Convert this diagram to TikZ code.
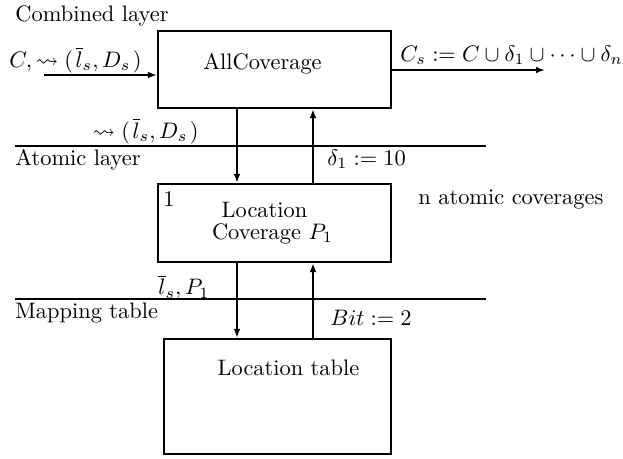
\documentclass[tikz,border=0pt]{standalone}
\usepackage{amsmath,amssymb}
\usetikzlibrary{arrows.meta}
\begin{document}
\begin{tikzpicture}[x=0.4464pt,y=-0.4464pt,
  box/.style={draw,line width=1pt,rectangle,inner sep=0pt},
  lbl/.style={inner sep=0pt,font=\normalsize},
  sep/.style={line width=0.5pt},
  down/.style={line width=0.8pt,-{Latex[length=4pt,width=3pt]}},
  up/.style={line width=1.3pt,-{Latex[length=4pt,width=3pt]}}]
\useasboundingbox (0,0) rectangle (623,458);
% boxes
\node[box,minimum width=233*0.4464pt,minimum height=77*0.4464pt] (allc) at (274.5,69.5) {};
\node[box,minimum width=233*0.4464pt,minimum height=78*0.4464pt] (lcov) at (274.5,223) {};
\node[box,minimum width=227*0.4464pt,minimum height=115*0.4464pt] (ltab) at (277.5,396.5) {};
% texts in boxes
\node[lbl] (tall) at (262.5,64) {AllCoverage};
\node[lbl,anchor=west] (one) at (163,199) {1};
\node[lbl] (tloc) at (264.5,210) {Location};
\node[lbl] (tcov) at (272.5,234) {Coverage $P_1$};
\node[lbl] (ttab) at (288.5,368) {Location table};
% layer labels
\node[lbl,anchor=west] (comb) at (15,16) {Combined layer};
\node[lbl,anchor=west] (atom) at (15,160) {Atomic layer};
\node[lbl,anchor=west] (mapt) at (15,313) {Mapping table};
\node[lbl,anchor=west] (natc) at (418,199) {n atomic coverages};
% separators
\coordinate (s1a) at (15,146); \coordinate (s1b) at (486,146);
\coordinate (s2a) at (15,299); \coordinate (s2b) at (486,299);
\draw[sep] (s1a) -- (s1b);
\draw[sep] (s2a) -- (s2b);
% input / output
\coordinate (in) at (44,75);
\coordinate (out) at (545,70);
\draw[down] (in) -- (in -| allc.west);
\draw[down] (allc.east |- out) -- (out);
\node[lbl,anchor=west] (lin) at (9,60) {$C, \rightsquigarrow (\mkern2mu\overline{l}_s, D_s\mkern2mu)$};
\node[lbl,anchor=west] (lout) at (400,55) {$C_s := C \cup \delta_1 \cup \cdots \cup \delta_n$};
% vertical connectors
\coordinate (dx) at (237,0);
\coordinate (ux) at (313,0);
\draw[down] (allc.south -| dx) -- (lcov.north -| dx);
\draw[up] (lcov.north -| ux) -- (allc.south -| ux);
\draw[down] (lcov.south -| dx) -- (ltab.north -| dx);
\draw[up] (ltab.north -| ux) -- (lcov.south -| ux);
% connector labels
\node[lbl,anchor=east] (l1) at (199,131) {$\rightsquigarrow (\mkern2mu\overline{l}_s, D_s\mkern2mu)$};
\node[lbl,anchor=west] (l2) at (327,159) {$\delta_1 := 10$};
\node[lbl,anchor=west] (l3) at (158,287) {$\overline{l}_s, P_1$};
\node[lbl,anchor=west] (l4) at (330,318) {$Bit := 2$};
\end{tikzpicture}
\end{document}
